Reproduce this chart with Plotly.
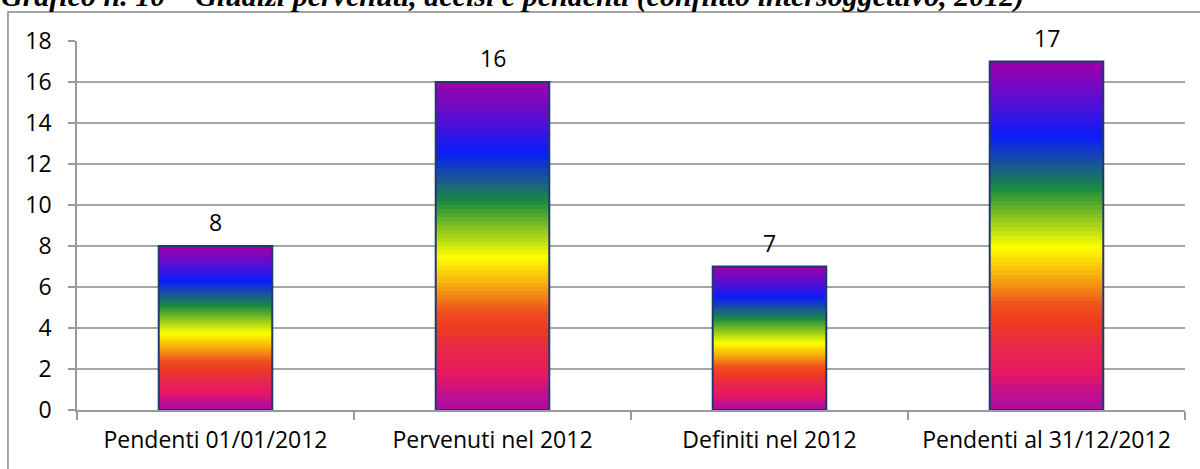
import plotly.graph_objects as go

categories = ["Pendenti 01/01/2012", "Pervenuti nel 2012", "Definiti nel 2012", "Pendenti al 31/12/2012"]
values = [8, 16, 7, 17]
title_text = "Grafico n. 10 – Giudizi pervenuti, decisi e pendenti (conflitto intersoggettivo, 2012)"
y_ticks = [0, 2, 4, 6, 8, 10, 12, 14, 16, 18]

# gradient stops (fraction from bar bottom, colour)
grad_stops = [
    (0.00, (168, 12, 160)),
    (0.03, (184, 14, 150)),
    (0.11, (232, 24, 96)),
    (0.18, (232, 40, 76)),
    (0.25, (238, 58, 34)),
    (0.30, (239, 80, 30)),
    (0.37, (245, 160, 16)),
    (0.465, (255, 255, 0)),
    (0.56, (128, 192, 32)),
    (0.635, (26, 138, 64)),
    (0.70, (26, 90, 144)),
    (0.785, (10, 28, 248)),
    (0.875, (80, 16, 216)),
    (1.00, (160, 0, 168)),
]


def grad_color(f):
    for (f0, c0), (f1, c1) in zip(grad_stops[:-1], grad_stops[1:]):
        if f0 <= f <= f1:
            t = (f - f0) / (f1 - f0) if f1 > f0 else 0
            c = [round(a + (b - a) * t) for a, b in zip(c0, c1)]
            return f"rgb({c[0]},{c[1]},{c[2]})"
    c = grad_stops[-1][1]
    return f"rgb({c[0]},{c[1]},{c[2]})"


FONT = "Open Sans"
FS = 23
N = 80
fig = go.Figure()
for i in range(N):
    frac = (i + 0.5) / N
    seg = 1.6 if i < N - 1 else 1.0
    fig.add_trace(go.Bar(
        x=categories,
        y=[v / N * seg for v in values],
        base=[v * i / N for v in values],
        marker=dict(color=grad_color(frac), line=dict(width=0)),
        hoverinfo="skip",
        showlegend=False,
    ))

# outline trace
fig.add_trace(go.Bar(
    x=categories,
    y=values,
    marker=dict(color="rgba(0,0,0,0)", line=dict(color="#1f3a6e", width=2)),
    showlegend=False,
))

for c, v in zip(categories, values):
    fig.add_annotation(x=c, y=v, text=str(v), showarrow=False, yanchor="bottom",
                       yshift=6, font=dict(family=FONT, size=FS, color="#000000"))

# title (partially cut at the top, as in the source)
fig.add_annotation(xref="paper", yref="paper", x=-0.07, y=1.0786, xanchor="left", yanchor="bottom",
                   yshift=-3, text="<b><i>" + title_text + "</i></b>", showarrow=False,
                   font=dict(family="Liberation Serif", size=30, color="#000000"))

# chart border (outer frame)
fig.add_shape(type="rect", xref="paper", yref="paper", x0=-0.0623, x1=1.2, y0=-0.5, y1=1.0786,
              line=dict(color="#888888", width=1.5), fillcolor="rgba(0,0,0,0)", layer="below")

fig.update_layout(
    width=1200, height=469,
    margin=dict(l=77, r=15, t=41, b=59),
    barmode="overlay",
    bargap=0.59,
    plot_bgcolor="white",
    paper_bgcolor="white",
    font=dict(family=FONT, size=FS, color="#000000"),
    xaxis=dict(
        type="category", showline=True, linecolor="#999999", linewidth=1.5,
        ticks="outside", tickson="boundaries", ticklen=8, tickcolor="#999999", tickwidth=1.5,
        showgrid=False, tickfont=dict(family=FONT, size=FS), ticklabelstandoff=9,
    ),
    yaxis=dict(
        range=[0, 18], tickvals=y_ticks, showline=True, linecolor="#999999", linewidth=1.5,
        ticks="outside", ticklen=7, tickcolor="#999999", tickwidth=1.5,
        showgrid=True, gridcolor="#a6a6a6", gridwidth=1.5, zeroline=False,
        tickfont=dict(family=FONT, size=FS), ticklabelstandoff=12,
    ),
)

fig.write_html("out.html", config={"displayModeBar": False},
               post_script="document.body.style.margin='0';")
